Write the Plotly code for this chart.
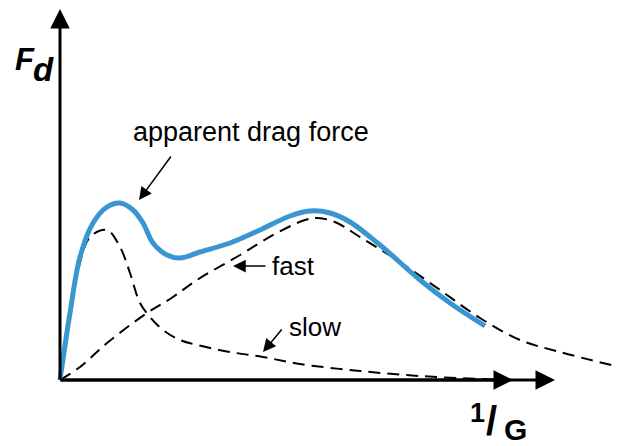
import plotly.graph_objects as go

# Schematic data (x = 1/G, y = F_d), arbitrary units
apparent_x = [0, 10, 20, 33, 47, 60, 73, 83, 93, 107, 120, 140, 170, 200, 230, 250, 270, 290, 320, 360, 390, 425]
apparent_y = [0, 67, 123, 157, 173, 177, 170, 157, 137, 125, 122, 128, 137, 150, 164, 169, 167, 158, 135, 100, 77, 54]

slow_x = [0, 8, 18, 30, 47, 60, 70, 80, 90, 103, 120, 137, 170, 203, 240, 300, 360, 420, 455]
slow_y = [0, 60, 110, 143, 150, 133, 107, 77, 63, 50, 40, 35, 28, 23, 16, 9, 4, 1, 0]

fast_x = [0, 20, 47, 87, 113, 137, 180, 215, 245, 258, 275, 300, 340, 380, 420, 460, 500, 555]
fast_y = [0, 13, 37, 67, 83, 100, 125, 146, 160, 162, 158, 143, 118, 90, 62, 40, 28, 14]

fig = go.Figure()

dash = "12px,7px"
fig.add_trace(go.Scatter(x=fast_x, y=fast_y, mode="lines", line=dict(color="black", width=2, dash=dash, shape="spline", smoothing=1.0), hoverinfo="skip"))
fig.add_trace(go.Scatter(x=slow_x, y=slow_y, mode="lines", line=dict(color="black", width=2, dash=dash, shape="spline", smoothing=1.0), hoverinfo="skip"))
fig.add_trace(go.Scatter(x=apparent_x, y=apparent_y, mode="lines", line=dict(color="#3A96D0", width=5, shape="spline", smoothing=1.0), hoverinfo="skip"))

font = "Arial, Liberation Sans, sans-serif"

def arrow(x, y, ax, ay, width, size):
    fig.add_annotation(x=x, y=y, ax=ax, ay=ay, xref="x", yref="y", axref="x", ayref="y",
                       text="", showarrow=True, arrowhead=2, arrowwidth=width, arrowsize=size,
                       arrowcolor="black", standoff=0, startstandoff=0)

def label(x, y, text, size):
    fig.add_annotation(x=x, y=y, xref="x", yref="y", text=text, showarrow=False,
                       font=dict(family=font, size=size, color="black"))

# axes
arrow(0, 371, 0, -1, 3, 1.3)
arrow(495, 0, -1, 0, 3, 1.3)
arrow(453, 0, -1, 0, 3, 1.3)

# pointer arrows
arrow(79, 180, 112, 225, 1.5, 1.7)
arrow(173, 114, 207, 114, 1.5, 1.7)
arrow(203, 28, 223, 52, 1.5, 1.7)

label(191, 248, "apparent drag force", 27)
label(233, 114, "fast", 26)
label(255, 53, "slow", 26)

# axis titles: F_d and 1/G
label(-35, 321, "<b><i>F</i></b>", 31)
label(-17, 311, "<b><i>d</i></b>", 33)
label(417, -33, "<b>1</b>", 27)
label(431, -41, "<b>/</b>", 40)
label(455, -49, "<b>G</b>", 30)

# the page body has an 8px margin, so the figure is laid out from (8, 8)
fig.update_layout(
    width=619, height=438, margin=dict(l=0, r=0, t=0, b=0),
    paper_bgcolor="white", plot_bgcolor="white", showlegend=False,
    xaxis=dict(range=[-52, 567], visible=False, fixedrange=True),
    yaxis=dict(range=[-66, 372], visible=False, fixedrange=True),
)

fig.write_html("out.html")
